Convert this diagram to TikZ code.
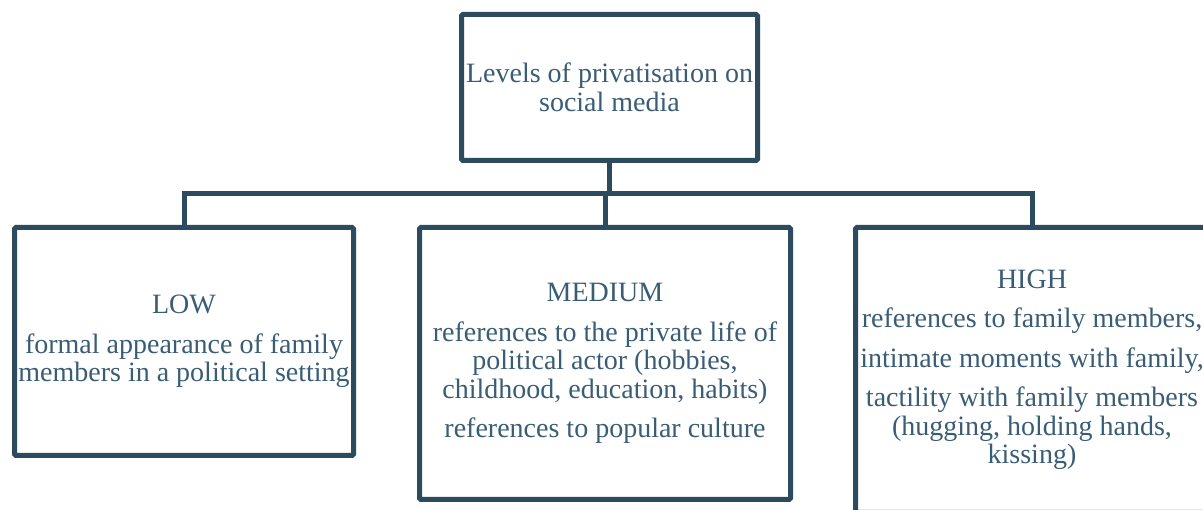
\documentclass[tikz,border=0pt]{standalone}
\usepackage{fontspec}
\setmainfont{Liberation Serif}
\begin{document}
\definecolor{frame}{HTML}{2C4B5F}
\definecolor{ink}{HTML}{3A5D76}
\begin{tikzpicture}[x=1pt,y=-1pt,
  levelbox/.style={draw=frame, line width=5pt, rounded corners=1.5pt, fill=white,
    inner sep=0pt, align=center, text=ink,
    font=\fontsize{28}{28.5}\selectfont},
  link/.style={draw=frame, line width=5pt}]
  \useasboundingbox (0,0) rectangle (1203,510);
  \begin{scope}
  \clip (0,0) rectangle (1203,510);
  % root and the three levels
  \node[levelbox, minimum width=296pt, minimum height=146pt] (root) at (609.5,87.5)
    {Levels of privatisation on\\social media};
  \node[levelbox, minimum width=339pt, minimum height=228pt] (low) at (184,341.5)
    {LOW\\[11pt]formal appearance of family\\members in a political setting};
  \node[levelbox, minimum width=371pt, minimum height=272pt] (mid) at (605,363.5)
    {MEDIUM\\[11pt]references to the private life of\\political actor (hobbies,\\childhood, education, habits)\\[11pt]references to popular culture};
  \node[levelbox, minimum width=353pt, minimum height=285pt] (high) at (1032,370)
    {HIGH\\[11pt]references to family members,\\[11pt]intimate moments with family,\\[11pt]tactility with family members\\(hugging, holding hands,\\kissing)};
  % connectors through the bus
  \coordinate (bus) at (0,193.5);
  \draw[link] (low.north) |- (bus -| high.north) -- (high.north);
  \draw[link] (root.south) -- (root.south |- bus);
  \draw[link] (mid.north) -- (mid.north |- bus);
  \end{scope}
\end{tikzpicture}
\end{document}
